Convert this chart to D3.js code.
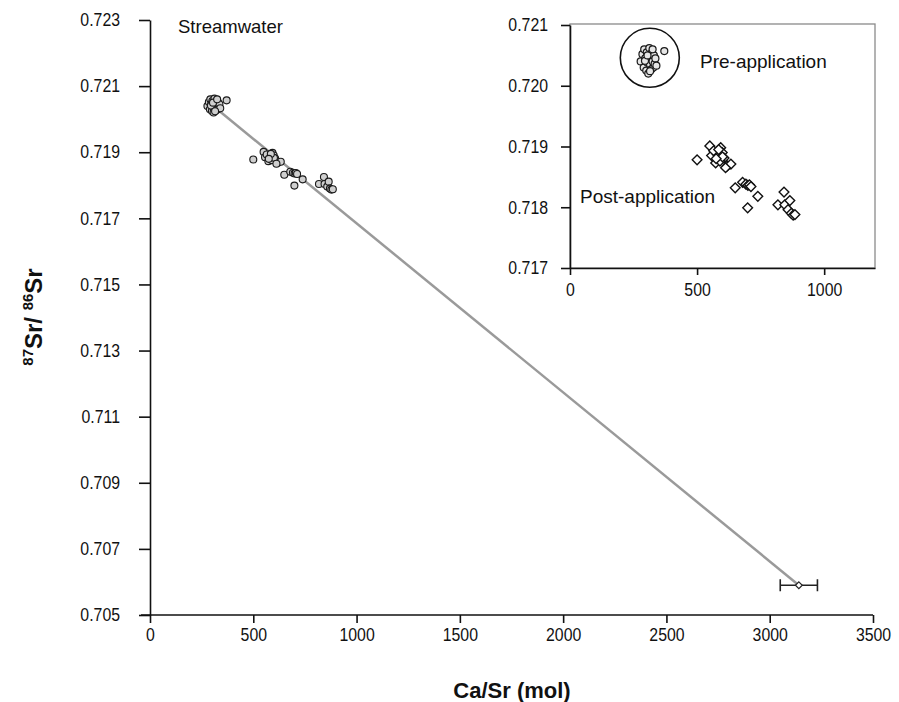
<!DOCTYPE html>
<html>
<head>
<meta charset="utf-8">
<script src="https://cdn.jsdelivr.net/npm/d3@7"></script>
<style>
    body { margin: 0; background: #fff; }
    text { font-family: "Liberation Sans", Arial, sans-serif; fill: #111; }
</style>
</head>
<body>
<script>
// pre-application streamwater samples (Ca/Sr mol, 87Sr/86Sr)
const preCaSr = [278, 285, 290, 292, 296, 300, 302, 305, 308, 310, 312, 315, 318, 320, 322, 325, 328, 330, 333, 336, 340, 295, 315, 305, 325, 371];
const preSr = [0.72040, 0.72052, 0.72030, 0.72060, 0.72045, 0.72025, 0.72055, 0.72038, 0.72020, 0.72048, 0.72062, 0.72035, 0.72044, 0.72027, 0.72054, 0.72040, 0.72030, 0.72050, 0.72036, 0.72045, 0.72033, 0.72041, 0.72024, 0.72050, 0.72060, 0.72057];

// post-application streamwater samples
const postCaSr = [500, 550, 557, 573, 580, 593, 599, 606, 619, 633, 565, 590, 600, 612, 585, 575, 650, 679, 692, 700, 706, 712, 699, 739, 818, 842, 845, 858, 865, 871, 878, 885];
const postSr = [0.71878, 0.71901, 0.71885, 0.71873, 0.71887, 0.71898, 0.71890, 0.71881, 0.71868, 0.71871, 0.71893, 0.71876, 0.71883, 0.71865, 0.71895, 0.71880, 0.71832, 0.71841, 0.71838, 0.71836, 0.71837, 0.71834, 0.71799, 0.71818, 0.71804, 0.71825, 0.71804, 0.71796, 0.71811, 0.71790, 0.71787, 0.71788];

// applied material end-member with error bar
const endCaSr = 3141;
const endCaSrErr = 90;
const endSr = 0.7059;

// mixing line end points
const lineCaSr = [290, 3141];
const lineSr = [0.72048, 0.7059];

const mainXTicks = [0, 500, 1000, 1500, 2000, 2500, 3000, 3500];
const mainYTicks = [0.705, 0.707, 0.709, 0.711, 0.713, 0.715, 0.717, 0.719, 0.721, 0.723];
const insetXTicks = [0, 500, 1000];
const insetYTicks = [0.717, 0.718, 0.719, 0.720, 0.721];

// pre-application cluster ring centre (data units)
const ringCaSr = 314;
const ringSr = 0.72046;

width = 899;
height = 702;

svg = d3.select("body").append("svg").attr("width", width).attr("height", height);

// tick labels in the original use a condensed face: squeeze them a little
styleAxis = (a) => {
    a.selectAll("path, line").attr("stroke", "#111").attr("stroke-width", 1.6);
    a.selectAll("text")
        .attr("font-size", 18)
        .attr("font-family", "Liberation Sans, Arial, sans-serif")
        .attr("fill", "#111")
        .each(function () {
            const len = this.getComputedTextLength();
            d3.select(this).attr("textLength", len * 0.88).attr("lengthAdjust", "spacingAndGlyphs");
        });
};

// main chart
{
    x = d3.scaleLinear().domain([0, 3500]).range([150, 873]);
    y = d3.scaleLinear().domain([0.705, 0.723]).range([615, 20]);

    main = svg.append("g").attr("class", "main");

    // mixing line
    main.append("line")
        .attr("x1", x(lineCaSr[0]))
        .attr("y1", y(lineSr[0]))
        .attr("x2", x(lineCaSr[1]))
        .attr("y2", y(lineSr[1]))
        .attr("stroke", "#9a9a9a")
        .attr("stroke-width", 2.5);

    // error bar
    let eb = main.append("g").attr("stroke", "#222").attr("stroke-width", 1.6);
    eb.append("line")
        .attr("x1", x(endCaSr - endCaSrErr)).attr("x2", x(endCaSr + endCaSrErr))
        .attr("y1", y(endSr)).attr("y2", y(endSr));
    [endCaSr - endCaSrErr, endCaSr + endCaSrErr].forEach((v) => {
        eb.append("line")
            .attr("x1", x(v)).attr("x2", x(v))
            .attr("y1", y(endSr) - 6).attr("y2", y(endSr) + 6);
    });
    main.append("path")
        .attr("d", d3.symbol(d3.symbolDiamond2, 30)())
        .attr("transform", `translate(${x(endCaSr)},${y(endSr)})`)
        .attr("fill", "#fff")
        .attr("stroke", "#222")
        .attr("stroke-width", 1.2);

    // points
    const pts = [...preCaSr.map((v, i) => [v, preSr[i]]), ...postCaSr.map((v, i) => [v, postSr[i]])];
    main.selectAll("circle.pt")
        .data(pts)
        .enter()
        .append("circle")
        .attr("class", "pt")
        .attr("cx", (d) => x(d[0]))
        .attr("cy", (d) => y(d[1]))
        .attr("r", 3.5)
        .attr("fill", "#cfcfcf")
        .attr("stroke", "#1a1a1a")
        .attr("stroke-width", 1.1);

    // axes
    xAxis = main.append("g")
        .attr("transform", `translate(0,${y(0.705)})`)
        .call(d3.axisBottom(x).tickValues(mainXTicks).tickSize(8).tickPadding(5).tickSizeOuter(0).tickFormat(d3.format("d")));
    yAxis = main.append("g")
        .attr("transform", `translate(${x(0)},0)`)
        .call(d3.axisLeft(y).tickValues(mainYTicks).tickSize(11).tickPadding(19).tickSizeOuter(0).tickFormat(d3.format(".3f")));
    styleAxis(xAxis);
    styleAxis(yAxis);
    // let the x axis line run a bit left of the y axis
    xAxis.select("path.domain").attr("d", `M${x(0) - 9},0H${x(3500)}`);

    main.append("text")
        .text("Streamwater")
        .attr("x", 178)
        .attr("y", 33)
        .attr("font-size", 18.5);

    // axis titles
    main.append("text")
        .text("Ca/Sr (mol)")
        .attr("x", 512)
        .attr("y", 698)
        .attr("text-anchor", "middle")
        .attr("font-size", 22)
        .attr("font-weight", "bold");

    let yt = main.append("text")
        .attr("transform", "translate(42,317) rotate(-90)")
        .attr("text-anchor", "middle")
        .attr("font-size", 24)
        .attr("font-weight", "bold");
    yt.append("tspan").text("87").attr("font-size", 15).attr("dy", -9);
    yt.append("tspan").text("Sr/ ").attr("dy", 9);
    yt.append("tspan").text("86").attr("font-size", 15).attr("dy", -9);
    yt.append("tspan").text("Sr").attr("dy", 9);
}

// inset
{
    ix = d3.scaleLinear().domain([0, 1200]).range([570, 875]);
    iy = d3.scaleLinear().domain([0.717, 0.721]).range([268, 25]);

    inset = svg.append("g").attr("class", "inset");

    inset.append("rect")
        .attr("x", ix(0)).attr("y", iy(0.721) - 1)
        .attr("width", ix(1200) - ix(0)).attr("height", iy(0.717) - iy(0.721) + 1)
        .attr("fill", "#fff")
        .attr("stroke", "#8a8a8a")
        .attr("stroke-width", 1.3);

    inset.append("circle")
        .attr("cx", ix(ringCaSr))
        .attr("cy", iy(ringSr))
        .attr("r", 29.5)
        .attr("fill", "none")
        .attr("stroke", "#111")
        .attr("stroke-width", 1.6);

    inset.selectAll("circle.pre")
        .data(preCaSr.map((v, i) => [v, preSr[i]]))
        .enter()
        .append("circle")
        .attr("class", "pre")
        .attr("cx", (d) => ix(d[0]))
        .attr("cy", (d) => iy(d[1]))
        .attr("r", 3.5)
        .attr("fill", "#e6e6e6")
        .attr("stroke", "#1a1a1a")
        .attr("stroke-width", 1.2);

    inset.selectAll("path.post")
        .data(postCaSr.map((v, i) => [v, postSr[i]]))
        .enter()
        .append("path")
        .attr("class", "post")
        .attr("d", d3.symbol(d3.symbolDiamond2, 60)())
        .attr("transform", (d) => `translate(${ix(d[0])},${iy(d[1])})`)
        .attr("fill", "#fff")
        .attr("stroke", "#111")
        .attr("stroke-width", 1.4);

    ixAxis = inset.append("g")
        .attr("transform", `translate(0,${iy(0.717)})`)
        .call(d3.axisBottom(ix).tickValues(insetXTicks).tickSize(7).tickPadding(8).tickSizeOuter(0).tickFormat(d3.format("d")));
    iyAxis = inset.append("g")
        .attr("transform", `translate(${ix(0)},0)`)
        .call(d3.axisLeft(iy).tickValues(insetYTicks).tickSize(9).tickPadding(13).tickSizeOuter(0).tickFormat(d3.format(".3f")));
    styleAxis(ixAxis);
    styleAxis(iyAxis);

    inset.append("text")
        .text("Pre-application")
        .attr("x", 700)
        .attr("y", 68)
        .attr("font-size", 19);
    inset.append("text")
        .text("Post-application")
        .attr("x", 580)
        .attr("y", 203)
        .attr("font-size", 19);
}
</script>
</body>
</html>
